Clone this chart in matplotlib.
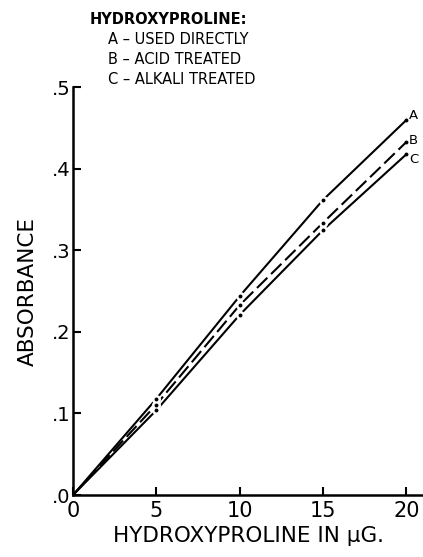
import matplotlib
matplotlib.use("Agg")
import matplotlib.pyplot as plt

# ----- data -----
x_ug = [0, 5, 10, 15, 20]
abs_a = [0.0, 0.118, 0.244, 0.362, 0.460]   # used directly
abs_b = [0.0, 0.111, 0.233, 0.334, 0.433]   # acid treated
abs_c = [0.0, 0.104, 0.221, 0.325, 0.418]   # alkali treated
curve_names = ["A", "B", "C"]
label_shift = [0.006, 0.002, -0.006]
legend_lines = ["HYDROXYPROLINE:", "A \u2013 USED DIRECTLY", "B \u2013 ACID TREATED",
                "C \u2013 ALKALI TREATED"]
x_ticks = [0, 5, 10, 15, 20]
y_ticks = [0.0, 0.1, 0.2, 0.3, 0.4, 0.5]
y_ticklabels = [".0", ".1", ".2", ".3", ".4", ".5"]

plt.rcParams['font.family'] = ['DejaVu Sans']

fig = plt.figure(figsize=(4.23, 5.57), dpi=100)
ax = fig.add_axes([0.1726, 0.1113, 0.8274, 0.7317])

styles = [dict(ls='-'), dict(ls=(0, (7, 2.5))), dict(ls='-')]
for ys, st, name, dy in zip([abs_a, abs_b, abs_c], styles, curve_names, label_shift):
    ax.plot(x_ug, ys, color='black', lw=1.5, **st, zorder=2)
    # small dots with a white gap round them at the measured points
    ax.plot(x_ug[1:-1], ys[1:-1], 'o', color='white', ms=6.5, mew=0, zorder=3)
    ax.plot(x_ug[1:], ys[1:], 'o', color='black', ms=2.8, mew=0, zorder=4, clip_on=False)
    ax.text(x_ug[-1] + 0.15, ys[-1] + dy, name, fontsize=9.5, va='center', ha='left',
            clip_on=False)

ax.set_xlim(0, 21)
ax.set_ylim(0, 0.5)
for s in ['top', 'right']:
    ax.spines[s].set_visible(False)
ax.spines['left'].set_linewidth(1.8)
ax.spines['bottom'].set_linewidth(1.8)

ax.set_xticks(x_ticks)
ax.set_xticklabels([str(v) for v in x_ticks], fontsize=15)
ax.set_yticks(y_ticks)
ax.set_yticklabels(y_ticklabels, fontsize=14)
ax.tick_params(direction='in', length=6, width=1.5, pad=2)
ax.tick_params(axis='x', pad=4)

ax.set_xlabel("HYDROXYPROLINE IN \u03bcG.", fontsize=15.5, labelpad=4)
ax.set_ylabel("ABSORBANCE", fontsize=15.5, labelpad=10)

# legend block at top
fig.text(90 / 423, 1 - 20 / 557, legend_lines[0], fontsize=10.5, fontweight='bold',
         va='center', ha='left')
for i, txt in enumerate(legend_lines[1:]):
    fig.text(108 / 423, 1 - (40 + 20 * i) / 557, txt, fontsize=10.5,
             va='center', ha='left')

fig.savefig("out.png", dpi=100)
